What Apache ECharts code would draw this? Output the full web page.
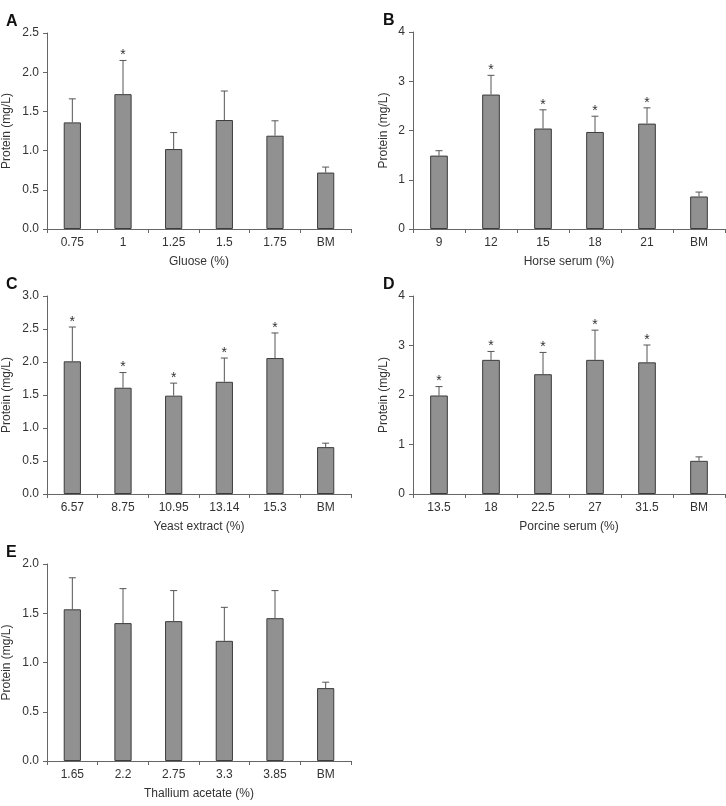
<!DOCTYPE html>
<html>
<head>
<meta charset="utf-8">
<script src="https://cdn.jsdelivr.net/npm/echarts@6/dist/echarts.min.js"></script>
<style>
  html, body { margin: 0; padding: 0; background: #fff; }
  #chart { width: 726px; height: 806px; }
</style>
</head>
<body>
<div id="chart"></div>
<script>
const catsA = ['0.75', '1', '1.25', '1.5', '1.75', 'BM'];
const meanA = [1.36, 1.72, 1.02, 1.39, 1.19, 0.72];
const sdA = [0.30, 0.43, 0.21, 0.37, 0.19, 0.07];
const sigA = [0, 1, 0, 0, 0, 0];

const catsB = ['9', '12', '15', '18', '21', 'BM'];
const meanB = [1.49, 2.73, 2.04, 1.97, 2.14, 0.66];
const sdB = [0.10, 0.39, 0.38, 0.32, 0.32, 0.09];
const sigB = [0, 1, 1, 1, 1, 0];

const catsC = ['6.57', '8.75', '10.95', '13.14', '15.3', 'BM'];
const meanC = [2.01, 1.61, 1.49, 1.70, 2.06, 0.71];
const sdC = [0.52, 0.23, 0.19, 0.36, 0.38, 0.06];
const sigC = [1, 1, 1, 1, 1, 0];

const catsD = ['13.5', '18', '22.5', '27', '31.5', 'BM'];
const meanD = [1.99, 2.71, 2.42, 2.71, 2.66, 0.67];
const sdD = [0.18, 0.17, 0.44, 0.60, 0.35, 0.08];
const sigD = [1, 1, 1, 1, 1, 0];

const catsE = ['1.65', '2.2', '2.75', '3.3', '3.85', 'BM'];
const meanE = [1.54, 1.40, 1.42, 1.22, 1.45, 0.74];
const sdE = [0.32, 0.35, 0.31, 0.34, 0.28, 0.06];
const sigE = [0, 0, 0, 0, 0, 0];

const FONT = 'Liberation Sans, Arial, sans-serif';
const AXIS = '#666';
const TXT = '#333';

const panels = [
  { tag: 'A', name: 'Gluose (%)', cats: catsA, mean: meanA, sd: sdA, sig: sigA, max: 2.5, step: 0.5, dec: 1, gap: 34,
    grid: { left: 47, top: 33, width: 304, height: 196 } },
  { tag: 'B', name: 'Horse serum (%)', cats: catsB, mean: meanB, sd: sdB, sig: sigB, max: 4, step: 1, dec: 0, gap: 23,
    grid: { left: 413, top: 32, width: 312, height: 197 } },
  { tag: 'C', name: 'Yeast extract (%)', cats: catsC, mean: meanC, sd: sdC, sig: sigC, max: 3, step: 0.5, dec: 1, gap: 34,
    grid: { left: 47, top: 296, width: 304, height: 198 } },
  { tag: 'D', name: 'Porcine serum (%)', cats: catsD, mean: meanD, sd: sdD, sig: sigD, max: 4, step: 1, dec: 0, gap: 23,
    grid: { left: 413, top: 296, width: 312, height: 198 } },
  { tag: 'E', name: 'Thallium acetate (%)', cats: catsE, mean: meanE, sd: sdE, sig: sigE, max: 2, step: 0.5, dec: 1, gap: 34,
    grid: { left: 47, top: 564, width: 304, height: 197 } }
];

function errorBar(params, api) {
  const i = api.value(0);
  const top = api.coord([i, api.value(2)]);
  const base = api.coord([i, api.value(1)]);
  const kids = [
    { type: 'line', shape: { x1: top[0], y1: base[1], x2: top[0], y2: top[1] },
      style: { stroke: '#555', lineWidth: 1 } },
    { type: 'line', shape: { x1: top[0] - 3.5, y1: top[1], x2: top[0] + 3.5, y2: top[1] },
      style: { stroke: '#555', lineWidth: 1 } }
  ];
  if (api.value(3)) {
    kids.push({ type: 'text', x: top[0], y: top[1] - 5,
      style: { text: '*', fill: TXT, font: '14px ' + FONT, align: 'center', verticalAlign: 'middle' } });
  }
  return { type: 'group', children: kids };
}

const option = {
  animation: false,
  backgroundColor: '#fff',
  title: [], grid: [], xAxis: [], yAxis: [], series: []
};

panels.forEach((p, k) => {
  const g = p.grid;
  option.title.push({ text: p.tag, left: g.left < 100 ? 1 : 378, top: g.top - 24,
    textStyle: { fontFamily: FONT, fontSize: 16, fontWeight: 'bold', color: '#111' } });
  option.grid.push(Object.assign({ containLabel: false }, g));
  option.xAxis.push({
    type: 'category', gridIndex: k, data: p.cats,
    name: p.name, nameLocation: 'middle', nameGap: 27,
    nameTextStyle: { fontFamily: FONT, fontSize: 12, color: TXT },
    axisLine: { lineStyle: { color: AXIS, width: 1 } },
    axisTick: { show: true, length: 4, lineStyle: { color: AXIS } },
    axisLabel: { fontFamily: FONT, fontSize: 12, color: TXT, margin: 8 }
  });
  option.yAxis.push({
    type: 'value', gridIndex: k, min: 0, max: p.max, interval: p.step,
    name: 'Protein (mg/L)', nameLocation: 'middle', nameGap: p.gap,
    nameTextStyle: { fontFamily: FONT, fontSize: 12, color: TXT },
    axisLine: { show: true, lineStyle: { color: AXIS, width: 1 } },
    axisTick: { show: true, length: 4, lineStyle: { color: AXIS } },
    splitLine: { show: false },
    axisLabel: { fontFamily: FONT, fontSize: 12, color: TXT, margin: 8,
      formatter: v => v.toFixed(p.dec) }
  });
  option.series.push({
    type: 'bar', xAxisIndex: k, yAxisIndex: k, data: p.mean, barWidth: '34%',
    itemStyle: { color: '#919191', borderColor: '#3c3c3c', borderWidth: 1 }
  });
  option.series.push({
    type: 'custom', xAxisIndex: k, yAxisIndex: k, renderItem: errorBar,
    encode: { x: 0, y: [1, 2] }, z: 3,
    data: p.mean.map((m, i) => [i, m, m + p.sd[i], p.sig[i]])
  });
});

const chart = echarts.init(document.getElementById('chart'), null, { renderer: 'canvas' });
chart.setOption(option);
</script>
</body>
</html>
